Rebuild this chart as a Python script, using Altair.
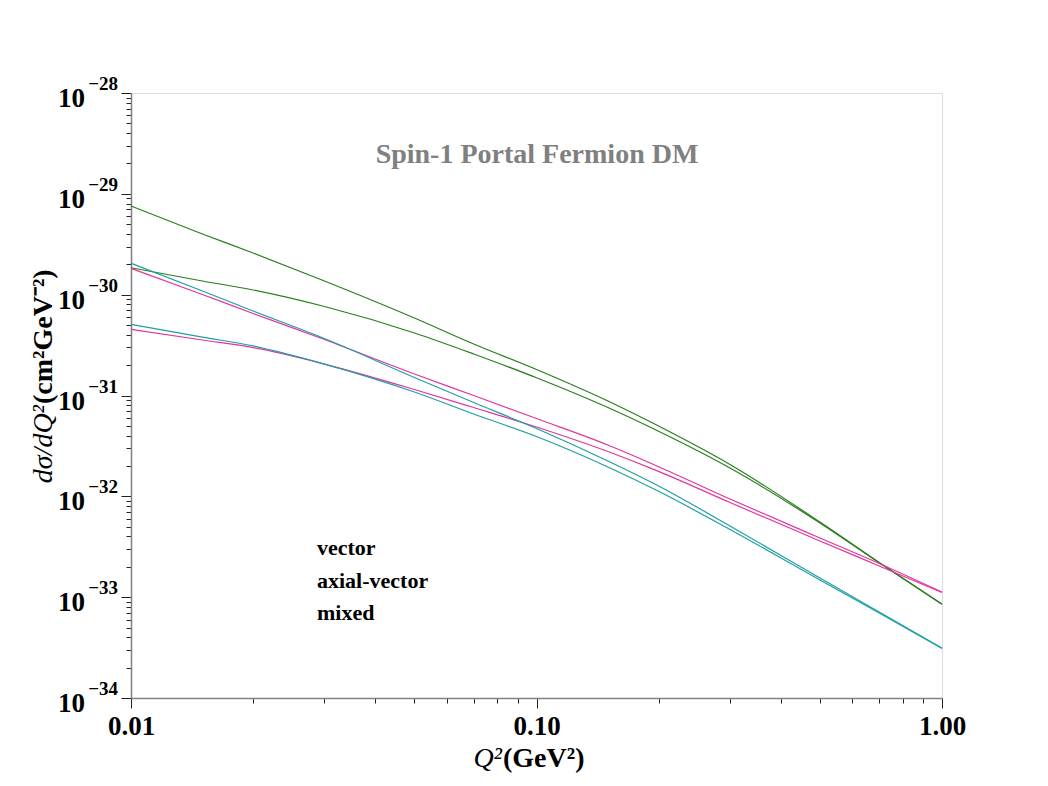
import altair as alt
import pandas as pd

# ---------------- data ----------------
Q2 = [0.01, 0.015, 0.02, 0.03, 0.05, 0.07, 0.1, 0.15, 0.2, 0.3, 0.5, 0.7, 1.0]

green_upper = [7.57e-30, 4.0e-30, 2.59e-30, 1.367e-30, 5.87e-31, 3.24e-31, 1.81e-31,
               8.82e-32, 4.98e-32, 2.07e-32, 5.56e-33, 2.21e-33, 8.55e-34]
green_lower = [1.85e-30, 1.367e-30, 1.112e-30, 7.63e-31, 4.17e-31, 2.58e-31, 1.50e-31,
               7.60e-32, 4.42e-32, 1.91e-32, 5.44e-33, 2.19e-33, 8.50e-34]
cyan_upper = [2.05e-30, 1.087e-30, 6.89e-31, 3.67e-31, 1.508e-31, 8.52e-32, 4.71e-32,
              2.24e-32, 1.266e-32, 5.08e-33, 1.548e-33, 7.12e-34, 3.13e-34]
cyan_lower = [5.08e-31, 3.80e-31, 3.10e-31, 2.05e-31, 1.083e-31, 6.55e-32, 3.92e-32,
              1.953e-32, 1.121e-32, 4.69e-33, 1.48e-33, 6.96e-34, 3.10e-34]
magenta_upper = [1.826e-30, 1.004e-30, 6.51e-31, 3.59e-31, 1.634e-31, 1.0e-31, 5.91e-32,
                 3.23e-32, 1.967e-32, 9.41e-33, 3.86e-33, 2.16e-33, 1.125e-33]
magenta_lower = [4.53e-31, 3.55e-31, 2.99e-31, 2.05e-31, 1.147e-31, 7.60e-32, 4.87e-32,
                 2.78e-32, 1.767e-32, 8.68e-33, 3.61e-33, 2.04e-33, 1.112e-33]

legend_labels = ["vector", "axial-vector", "mixed"]
x_major = [0.01, 0.1, 1.0]
y_major_exp = [-28, -29, -30, -31, -32, -33, -34]
title_text = "Spin-1 Portal Fermion DM"

GREEN = "#2a7d1f"
MAGENTA = "#e0359c"
CYAN = "#1f9ea6"
SERIF = "Liberation Serif"

curves = [
    ("green_upper", "vector", green_upper),
    ("green_lower", "vector", green_lower),
    ("magenta_upper", "axial-vector", magenta_upper),
    ("magenta_lower", "axial-vector", magenta_lower),
    ("cyan_upper", "mixed", cyan_upper),
    ("cyan_lower", "mixed", cyan_lower),
]
rows = []
for name, grp, ys in curves:
    for xv, yv in zip(Q2, ys):
        rows.append({"curve": name, "group": grp, "x": xv, "y": yv})
df = pd.DataFrame(rows)

# tick positions
x_minor = [m * 10.0 ** e for e in (-2, -1) for m in range(2, 10)]
x_ticks = x_major + x_minor
y_ticks = [10.0 ** e for e in y_major_exp] + [m * 10.0 ** e for e in range(-34, -28) for m in range(2, 10)]

xscale = alt.Scale(type="log", domain=[0.01, 1.0], nice=False)
yscale = alt.Scale(type="log", domain=[1e-34, 1e-28], nice=False)

x_major_test = "indexof([0.01, 0.1, 1], datum.value) >= 0"
y_major_test = "abs(log(datum.value)/LN10 - round(log(datum.value)/LN10)) < 0.001"

x_axis = alt.Axis(
    values=x_ticks,
    labelExpr="datum.value == 0.01 ? '0.01' : (datum.value == 0.1 ? '0.10' : (datum.value == 1 ? '1.00' : ''))",
    labelFont=SERIF, labelFontSize=27, labelFontWeight="bold", labelColor="black",
    labelPadding=5, labelOverlap=False, labelFlush=False,
    tickSize={"condition": {"test": x_major_test, "value": 10}, "value": 5},
    tickColor="#222222", tickWidth=1,
    domainColor="#808080", domainWidth=1.5,
    grid=False, title=None,
)
y_axis = alt.Axis(
    values=y_ticks, labels=False,
    tickSize={"condition": {"test": y_major_test, "value": 10}, "value": 5},
    tickColor="#222222", tickWidth=1,
    domainColor="#808080", domainWidth=1.5,
    grid=False, title=None,
)

lines = alt.Chart(df).mark_line(strokeWidth=1.2, interpolate="monotone").encode(
    x=alt.X("x:Q", scale=xscale, axis=x_axis),
    y=alt.Y("y:Q", scale=yscale, axis=y_axis),
    color=alt.Color("group:N", scale=alt.Scale(domain=legend_labels, range=[GREEN, MAGENTA, CYAN]), legend=None),
    detail="curve:N",
)

ylab_df = pd.DataFrame({
    "y": [10.0 ** e for e in y_major_exp],
    "base": ["10"] * len(y_major_exp),
    "exp": ["\u2212" + str(-e) for e in y_major_exp],
})
ylab_base = alt.Chart(ylab_df).mark_text(
    align="right", baseline="alphabetic", dy=14, font=SERIF, fontSize=27, fontWeight="bold", color="black"
).encode(x=alt.value(-46), y=alt.Y("y:Q", scale=yscale), text="base:N")
ylab_exp = alt.Chart(ylab_df).mark_text(
    align="right", baseline="alphabetic", dy=-3, font=SERIF, fontSize=19, fontWeight="bold", color="black"
).encode(x=alt.value(-13), y=alt.Y("y:Q", scale=yscale), text="exp:N")


def label(text, x, y, **kw):
    return alt.Chart(pd.DataFrame({"t": [text]})).mark_text(
        baseline="alphabetic", font=SERIF, color=kw.pop("color", "black"), **kw
    ).encode(x=alt.value(x), y=alt.value(y), text="t:N")


title = label(title_text, 406, 70, align="center", fontSize=28, fontWeight="bold", color="#808080")

legend_layers = [
    label(t, 186, yy, align="left", fontSize=22, fontWeight="bold")
    for t, yy in zip(legend_labels, [462, 495, 527])
]

xt1 = label("Q\u00b2", 371, 674, align="right", fontSize=28, fontStyle="italic")
xt2 = label("(GeV\u00b2)", 372, 674, align="left", fontSize=28, fontWeight="bold")

yt1 = label("d\u03c3/dQ\u00b2", -79, 312, align="right", angle=270, fontSize=28, fontStyle="italic")
yt2 = label("(cm\u00b2GeV\u207b\u00b2)", -79, 311, align="left", angle=270, fontSize=28, fontWeight="bold")

chart = alt.layer(lines, ylab_base, ylab_exp, title, *legend_layers, xt1, xt2, yt1, yt2).properties(
    width=811, height=605,
    autosize=alt.AutoSizeParams(type="none"),
    padding={"left": 123, "top": 85, "right": 98, "bottom": 80},
).configure_view(stroke="#555555", strokeWidth=1.2).configure(background="white")

chart.save("out.html", embed_options={"renderer": "svg", "actions": False})
